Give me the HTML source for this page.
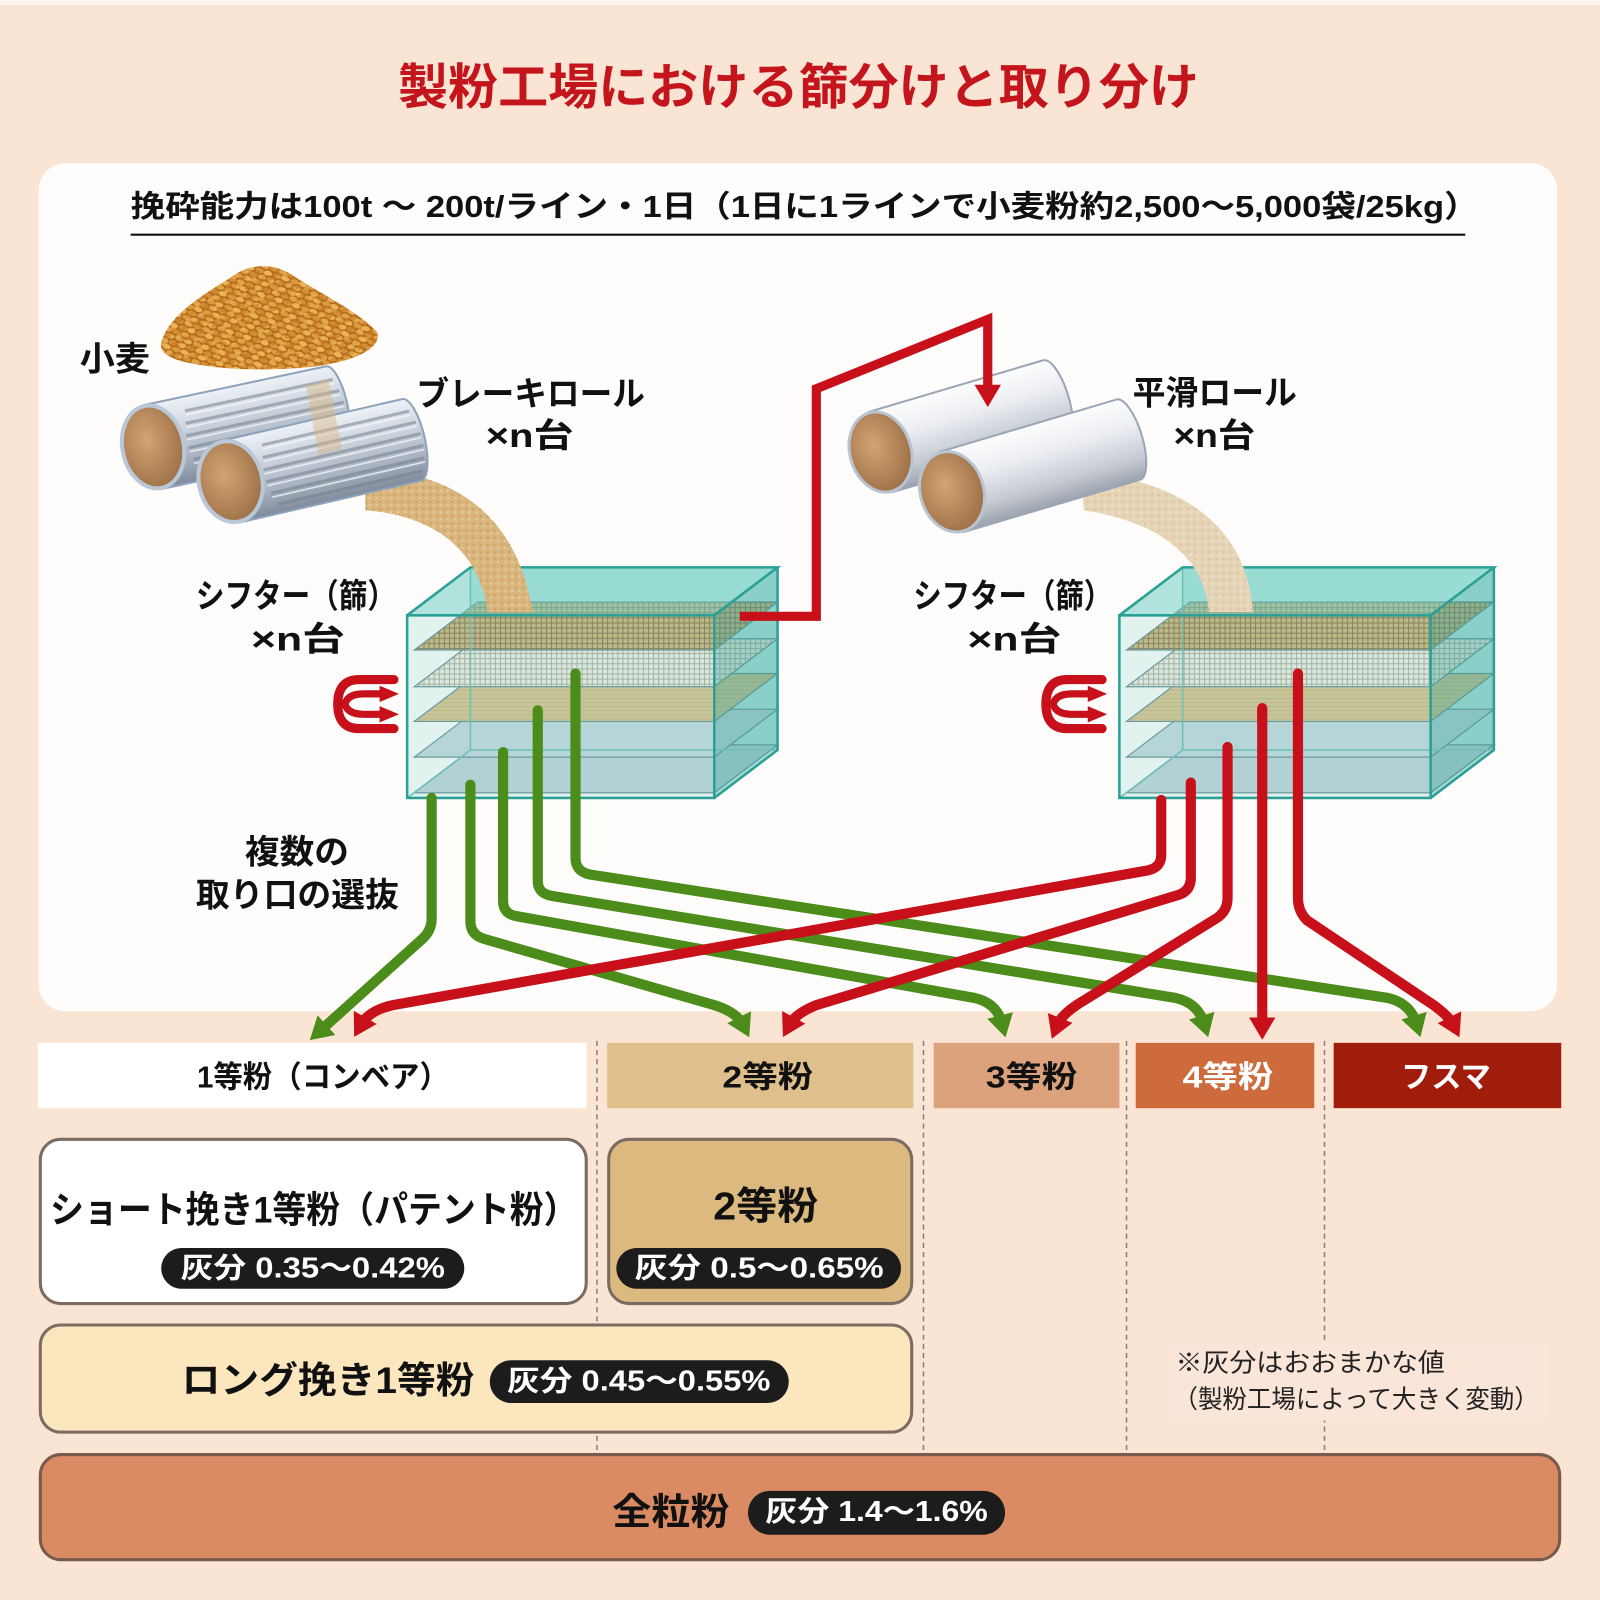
<!DOCTYPE html>
<html><head><meta charset="utf-8"><style>
html,body{margin:0;padding:0;background:#fae4d4;}
svg{display:block;}
.b{font-family:"Liberation Sans","Noto Sans CJK JP",sans-serif;font-weight:700;}
.r{font-family:"Liberation Sans","Noto Sans CJK JP",sans-serif;font-weight:400;}
</style></head><body>
<svg xmlns="http://www.w3.org/2000/svg" width="1600" height="1600" viewBox="0 0 1568 1568">
<defs>
<pattern id="grain" width="18" height="11" patternUnits="userSpaceOnUse" patternTransform="rotate(18)">
<rect width="18" height="11" fill="#b06a1c"/>
<ellipse cx="4" cy="3" rx="4.2" ry="2.4" fill="#e3a445"/>
<ellipse cx="13" cy="3" rx="4.2" ry="2.4" fill="#d48e34"/>
<ellipse cx="8.5" cy="8.5" rx="4.2" ry="2.4" fill="#eab252"/>
<ellipse cx="0" cy="8.5" rx="4.2" ry="2.4" fill="#dc9a3c"/>
<ellipse cx="18" cy="8.5" rx="4.2" ry="2.4" fill="#dc9a3c"/>
</pattern>
<pattern id="grain2" width="15" height="10" patternUnits="userSpaceOnUse" patternTransform="rotate(-25)">
<ellipse cx="4" cy="3" rx="3.5" ry="2" fill="#f0b860" opacity="0.6"/>
<ellipse cx="11" cy="8" rx="3.5" ry="2" fill="#c77a25" opacity="0.6"/>
</pattern>
<pattern id="meshTan" width="5" height="5" patternUnits="userSpaceOnUse">
<rect width="5" height="5" fill="#d3b57e"/><path d="M0 0.5H5M0.5 0V5" stroke="#8c7246" stroke-width="1"/>
</pattern>
<pattern id="meshWhite" width="5" height="5" patternUnits="userSpaceOnUse">
<rect width="5" height="5" fill="#f4efe5"/><path d="M0 0.5H5M0.5 0V5" stroke="#b3ab9a" stroke-width="1"/>
</pattern>
<pattern id="tanTex" width="4" height="4" patternUnits="userSpaceOnUse">
<rect width="4" height="4" fill="#dec590"/><path d="M0 0.5H4" stroke="#cfb27c" stroke-width="1"/>
</pattern>
<pattern id="powder" width="7" height="7" patternUnits="userSpaceOnUse">
<rect width="7" height="7" fill="#d9b67e"/><circle cx="2" cy="2" r="1" fill="#c29a5e"/><circle cx="5" cy="5" r="1" fill="#ecd3a4"/>
</pattern>
<pattern id="powder2" width="7" height="7" patternUnits="userSpaceOnUse">
<rect width="7" height="7" fill="#e6d4b6"/><circle cx="2" cy="2" r="1" fill="#d6c09c"/><circle cx="5" cy="5" r="1" fill="#f2e6d0"/>
</pattern>
<linearGradient id="rollG" x1="0" y1="0" x2="0" y2="1">
<stop offset="0" stop-color="#eef2f7"/><stop offset="0.3" stop-color="#d2d9e2"/><stop offset="0.7" stop-color="#a9b3c1"/><stop offset="1" stop-color="#7f8b9c"/>
</linearGradient>
<linearGradient id="rollS" x1="0" y1="0" x2="0" y2="1">
<stop offset="0" stop-color="#fdfdfe"/><stop offset="0.35" stop-color="#eceef2"/><stop offset="0.75" stop-color="#c5cad2"/><stop offset="1" stop-color="#9ca3ad"/>
</linearGradient>
<radialGradient id="capG" cx="0.42" cy="0.4" r="0.7">
<stop offset="0" stop-color="#d3a473"/><stop offset="1" stop-color="#976a42"/>
</radialGradient>
<marker id="ag" viewBox="0 0 22 26" markerWidth="22" markerHeight="26" refX="8" refY="13" orient="auto" markerUnits="userSpaceOnUse"><path d="M0,0 L22,13 L0,26 Z" fill="#4c8c1b"/></marker>
<marker id="ar" viewBox="0 0 22 26" markerWidth="22" markerHeight="26" refX="8" refY="13" orient="auto" markerUnits="userSpaceOnUse"><path d="M0,0 L22,13 L0,26 Z" fill="#c8101a"/></marker>
</defs>

<rect width="1568" height="1568" fill="#fae4d4"/>
<rect width="1568" height="5" fill="#fcf4ee"/>

<text class="b" x="390" y="86" font-size="48" font-weight="900" fill="#c4141c" dominant-baseline="central" textLength="785" lengthAdjust="spacingAndGlyphs">製粉工場における篩分けと取り分け</text>

<rect x="38" y="160" width="1488" height="831" rx="26" fill="#fffdfb"/>

<text class="b" x="128" y="203" font-size="30" fill="#111" dominant-baseline="central" textLength="1321" lengthAdjust="spacingAndGlyphs">挽砕能力は100t ～ 200t/ライン・1日（1日に1ラインで小麦粉約2,500～5,000袋/25kg）</text>
<line x1="128" y1="230" x2="1436" y2="230" stroke="#111" stroke-width="2"/>

<!-- LEFT SIFTER -->
<g>
<rect x="461" y="556" width="301" height="179" fill="#cdeee9"/>
<g stroke="#6a8f95" stroke-width="1.2">
<polygon points="406,777 700,777 762,730 468,730" fill="#c3d2da"/>
<polygon points="406,742 700,742 762,695 468,695" fill="#c9d7de"/>
<polygon points="406,707 700,707 762,660 468,660" fill="url(#tanTex)"/>
<polygon points="406,673 700,673 762,626 468,626" fill="url(#meshWhite)"/>
<polygon points="406,637 700,637 762,590 468,590" fill="url(#meshTan)"/>
</g>
<polygon points="700,603 762,556 762,735 700,782" fill="rgba(60,170,160,0.45)"/>
<polygon points="399,603 700,603 762,556 461,556" fill="rgba(110,205,195,0.55)"/>
<rect x="399" y="603" width="301" height="179" fill="rgba(110,205,195,0.2)"/>
<path d="M461,556 V735 H762 M399,782 L461,735" stroke="#6cc0b6" stroke-width="1.5" fill="none"/>
<path d="M399,603 H700 V782 H399 Z M399,603 L461,556 H762 L700,603 M762,556 V735 L700,782" stroke="#2ba096" stroke-width="2.5" fill="none"/>
</g>

<!-- RIGHT SIFTER -->
<g>
<rect x="1159" y="556" width="305" height="179" fill="#cdeee9"/>
<g stroke="#6a8f95" stroke-width="1.2">
<polygon points="1104,777 1402,777 1464,730 1166,730" fill="#c3d2da"/>
<polygon points="1104,742 1402,742 1464,695 1166,695" fill="#c9d7de"/>
<polygon points="1104,707 1402,707 1464,660 1166,660" fill="url(#tanTex)"/>
<polygon points="1104,673 1402,673 1464,626 1166,626" fill="url(#meshWhite)"/>
<polygon points="1104,637 1402,637 1464,590 1166,590" fill="url(#meshTan)"/>
</g>
<polygon points="1402,603 1464,556 1464,735 1402,782" fill="rgba(60,170,160,0.45)"/>
<polygon points="1097,603 1402,603 1464,556 1159,556" fill="rgba(110,205,195,0.55)"/>
<rect x="1097" y="603" width="305" height="179" fill="rgba(110,205,195,0.2)"/>
<path d="M1159,556 V735 H1464 M1097,782 L1159,735" stroke="#6cc0b6" stroke-width="1.5" fill="none"/>
<path d="M1097,603 H1402 V782 H1097 Z M1097,603 L1159,556 H1464 L1402,603 M1464,556 V735 L1402,782" stroke="#2ba096" stroke-width="2.5" fill="none"/>
</g>

<!-- STREAMS -->
<path d="M358,460 C440,462 506,500 522,600 L478,600 C470,542 430,506 358,500 Z" fill="url(#powder)"/>
<path d="M1060,462 C1150,470 1222,510 1228,600 L1185,600 C1180,548 1140,512 1062,500 Z" fill="url(#powder2)"/>

<!-- WHEAT PILE -->
<path d="M158,336 C166,306 205,286 232,268 C248,258 272,258 290,272 C318,290 352,306 370,326 C374,344 340,356 300,360 C256,364 210,362 178,354 C164,350 156,344 158,336 Z" fill="url(#grain)"/>
<path d="M158,336 C166,306 205,286 232,268 C248,258 272,258 290,272 C318,290 352,306 370,326 C374,344 340,356 300,360 C256,364 210,362 178,354 C164,350 156,344 158,336 Z" fill="url(#grain2)"/>

<!-- LEFT ROLLERS -->
<g transform="translate(150,438) rotate(-12)">
<path d="M0,-42 H182 A13,42 0 0 1 182,42 H0 Z" fill="url(#rollG)" stroke="#8ea3bb" stroke-width="2"/>
<g stroke="#75818f" stroke-width="3" opacity="0.55"><path d="M38,-28H186M36,-16H190M34,-4H192M34,8H192M36,20H190M40,32H186"/></g>
<g stroke="#f4f7fa" stroke-width="1.5" opacity="0.8"><path d="M38,-24H186M36,-12H190M34,0H192M34,12H192M36,24H190"/></g>
<ellipse cx="0" cy="0" rx="30" ry="41" fill="url(#capG)" stroke="#b9c7d8" stroke-width="4"/>
</g>
<g transform="translate(226,472) rotate(-13)">
<path d="M0,-41 H182 A13,41 0 0 1 182,41 H0 Z" fill="url(#rollG)" stroke="#8ea3bb" stroke-width="2"/>
<g stroke="#75818f" stroke-width="3" opacity="0.55"><path d="M38,-28H186M36,-16H190M34,-4H192M34,8H192M36,20H190M40,32H186"/></g>
<g stroke="#f4f7fa" stroke-width="1.5" opacity="0.8"><path d="M38,-24H186M36,-12H190M34,0H192M34,12H192M36,24H190"/></g>
<ellipse cx="0" cy="0" rx="31" ry="40" fill="url(#capG)" stroke="#b9c7d8" stroke-width="4"/>
</g>
<path d="M300,378 L322,372 L335,440 L312,446 Z" fill="#d9b67e" opacity="0.45"/>

<!-- RIGHT ROLLERS -->
<g transform="translate(863,443) rotate(-16.5)">
<path d="M0,-41 H178 A14,41 0 0 1 178,41 H0 Z" fill="url(#rollS)" stroke="#9aa6b6" stroke-width="2"/>
<ellipse cx="0" cy="0" rx="30" ry="40" fill="url(#capG)" stroke="#b8c4d2" stroke-width="3"/>
</g>
<g transform="translate(933,482) rotate(-16.5)">
<path d="M0,-41 H180 A14,41 0 0 1 180,41 H0 Z" fill="url(#rollS)" stroke="#9aa6b6" stroke-width="2"/>
<ellipse cx="0" cy="0" rx="31" ry="40" fill="url(#capG)" stroke="#b8c4d2" stroke-width="3"/>
</g>

<!-- RED RETURN LINE -->
<path d="M725,604 H800 V381 L968,313 V385" fill="none" stroke="#c8101a" stroke-width="9" stroke-linejoin="miter" marker-end="url(#ar)"/>

<!-- VIBRATION ICONS -->
<g fill="none" stroke="#c8101a" stroke-linecap="round">
<path d="M386,666 L352,666 Q331,666 331,690 Q331,714 352,714 L386,714" stroke-width="9"/>
<path d="M338,690 Q341,680 356,680 L374,680 M338,690 Q341,700 356,700 L374,700" stroke-width="7"/>
<polygon points="372,672 391,680 372,688" fill="#c8101a" stroke="none"/>
<polygon points="372,692 391,700 372,708" fill="#c8101a" stroke="none"/>
</g>
<g transform="translate(694,0)" fill="none" stroke="#c8101a" stroke-linecap="round">
<path d="M386,666 L352,666 Q331,666 331,690 Q331,714 352,714 L386,714" stroke-width="9"/>
<path d="M338,690 Q341,680 356,680 L374,680 M338,690 Q341,700 356,700 L374,700" stroke-width="7"/>
<polygon points="372,672 391,680 372,688" fill="#c8101a" stroke="none"/>
<polygon points="372,692 391,700 372,708" fill="#c8101a" stroke="none"/>
</g>

<!-- LABELS -->
<g class="b" fill="#111" font-size="33" dominant-baseline="central">
<text x="78" y="353" textLength="69" lengthAdjust="spacingAndGlyphs">小麦</text>
<text x="408" y="387" textLength="224" lengthAdjust="spacingAndGlyphs">ブレーキロール</text>
<text x="476" y="428" textLength="86" lengthAdjust="spacingAndGlyphs">×n台</text>
<text x="1110" y="386" textLength="161" lengthAdjust="spacingAndGlyphs">平滑ロール</text>
<text x="1150" y="428" textLength="80" lengthAdjust="spacingAndGlyphs">×n台</text>
<text x="192" y="585" textLength="196" lengthAdjust="spacingAndGlyphs">シフター（篩）</text>
<text x="246" y="627" textLength="92" lengthAdjust="spacingAndGlyphs">×n台</text>
<text x="895" y="585" textLength="195" lengthAdjust="spacingAndGlyphs">シフター（篩）</text>
<text x="948" y="627" textLength="92" lengthAdjust="spacingAndGlyphs">×n台</text>
<text x="240" y="836" textLength="102" lengthAdjust="spacingAndGlyphs">複数の</text>
<text x="192" y="878" textLength="199" lengthAdjust="spacingAndGlyphs">取り口の選抜</text>
</g>

<!-- BOTTOM SECTION -->
<g stroke="#8a8078" stroke-width="1.5" stroke-dasharray="5 4">
<line x1="585" y1="1020" x2="585" y2="1424"/>
<line x1="905" y1="1020" x2="905" y2="1424"/>
<line x1="1104" y1="1020" x2="1104" y2="1424"/>
<line x1="1298" y1="1020" x2="1298" y2="1424"/>
</g>

<rect x="37" y="1022" width="538" height="64" fill="#ffffff"/>
<rect x="595" y="1022" width="300" height="64" fill="#dfc08c"/>
<rect x="915" y="1022" width="182" height="64" fill="#dba27c"/>
<rect x="1113" y="1022" width="175" height="64" fill="#cd6b3d"/>
<rect x="1307" y="1022" width="223" height="64" fill="#a01d0c"/>
<g class="b" font-size="30" dominant-baseline="central">
<text x="193" y="1056" fill="#111" textLength="247" lengthAdjust="spacingAndGlyphs">1等粉（コンベア）</text>
<text x="708" y="1056" fill="#111" textLength="89" lengthAdjust="spacingAndGlyphs">2等粉</text>
<text x="966" y="1056" fill="#111" textLength="90" lengthAdjust="spacingAndGlyphs">3等粉</text>
<text x="1159" y="1056" fill="#fff" textLength="89" lengthAdjust="spacingAndGlyphs">4等粉</text>
<text x="1373" y="1056" fill="#fff" textLength="88" lengthAdjust="spacingAndGlyphs">フスマ</text>
</g>

<rect x="39.5" y="1116.5" width="535" height="161" rx="20" fill="#ffffff" stroke="#7b6b60" stroke-width="3"/>
<rect x="596.5" y="1116.5" width="297" height="161" rx="20" fill="#dcb97f" stroke="#7b6b60" stroke-width="3"/>
<rect x="39.5" y="1298.5" width="854" height="105" rx="20" fill="#fbe6bd" stroke="#7b6b60" stroke-width="3"/>
<rect x="39.5" y="1425.5" width="1489" height="103" rx="20" fill="#db8b64" stroke="#7a5a48" stroke-width="3"/>

<g class="b" fill="#111" dominant-baseline="central">
<text x="49" y="1186" font-size="36" textLength="517" lengthAdjust="spacingAndGlyphs">ショート挽き1等粉（パテント粉）</text>
<text x="699" y="1183" font-size="38" textLength="103" lengthAdjust="spacingAndGlyphs">2等粉</text>
<text x="178" y="1353" font-size="36" textLength="287" lengthAdjust="spacingAndGlyphs">ロング挽き1等粉</text>
<text x="600" y="1482" font-size="36" textLength="115" lengthAdjust="spacingAndGlyphs">全粒粉</text>
</g>

<rect x="158" y="1223" width="297" height="40" rx="20" fill="#1c1c1c"/>
<rect x="604" y="1223" width="279" height="40" rx="20" fill="#1c1c1c"/>
<rect x="480" y="1333" width="293" height="42" rx="21" fill="#1c1c1c"/>
<rect x="733" y="1461" width="252" height="43" rx="21.5" fill="#1c1c1c"/>
<g class="b" fill="#fff" font-size="28" dominant-baseline="central">
<text x="177" y="1243" textLength="259" lengthAdjust="spacingAndGlyphs">灰分 0.35～0.42%</text>
<text x="622" y="1243" textLength="244" lengthAdjust="spacingAndGlyphs">灰分 0.5～0.65%</text>
<text x="497" y="1354" textLength="258" lengthAdjust="spacingAndGlyphs">灰分 0.45～0.55%</text>
<text x="750" y="1482" textLength="218" lengthAdjust="spacingAndGlyphs">灰分 1.4～1.6%</text>
</g>

<rect x="1142" y="1316" width="376" height="76" fill="#fae6d8"/>
<g class="r" fill="#222" font-size="25" dominant-baseline="central">
<text x="1152" y="1336" textLength="264" lengthAdjust="spacingAndGlyphs">※灰分はおおまかな値</text>
<text x="1150" y="1372" textLength="358" lengthAdjust="spacingAndGlyphs">（製粉工場によって大きく変動）</text>
</g>

<!-- GREEN CONNECTORS -->
<g fill="none" stroke="#4c8c1b" stroke-width="10" stroke-linecap="round" stroke-linejoin="round">
<path d="M423,782 L423,900 Q423,912 414,920 L314,1010" marker-end="url(#ag)"/>
<path d="M461,769 L461,903 Q461,916 474,920 L700,985 Q722,992 728,1004" marker-end="url(#ag)"/>
<path d="M493,737 L493,883 Q493,896 507,898 L955,978 Q977,983 982,1003" marker-end="url(#ag)"/>
<path d="M527,696 L527,863 Q527,876 541,878 L1152,978 Q1174,983 1180,1003" marker-end="url(#ag)"/>
<path d="M564,660 L564,841 Q564,854 578,857 L1360,978 Q1382,983 1388,1003" marker-end="url(#ag)"/>
</g>

<!-- RED CONNECTORS -->
<g fill="none" stroke="#c8101a" stroke-width="10" stroke-linecap="round" stroke-linejoin="round">
<path d="M1138,784 L1138,838 Q1138,850 1125,853 L385,985 Q362,990 354,1004" marker-end="url(#ar)"/>
<path d="M1167,767 L1167,860 Q1167,873 1155,877 L800,985 Q780,993 774,1004" marker-end="url(#ar)"/>
<path d="M1203,732 L1203,880 Q1203,893 1192,900 L1055,985 Q1040,995 1036,1005" marker-end="url(#ar)"/>
<path d="M1237,694 L1237,1005" marker-end="url(#ar)"/>
<path d="M1272,660 L1272,880 Q1272,893 1281,902 L1405,985 Q1420,996 1424,1004" marker-end="url(#ar)"/>
</g>
</svg>
</body></html>
